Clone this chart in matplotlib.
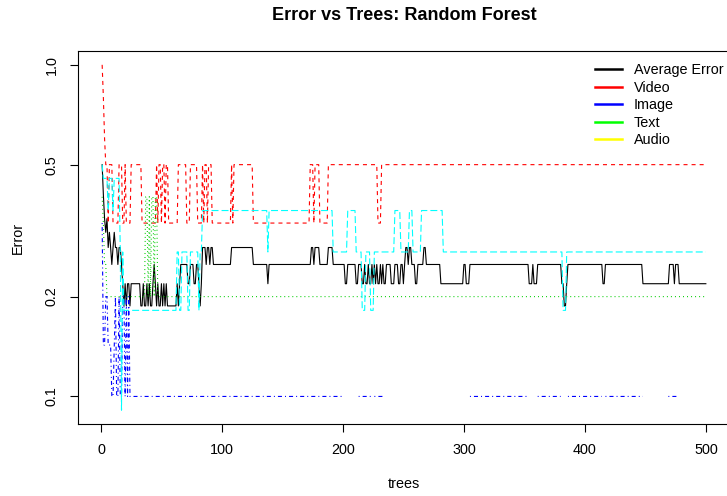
import numpy as np
import matplotlib
matplotlib.use("Agg")
import matplotlib.pyplot as plt
from matplotlib.lines import Line2D

plt.rcParams['font.family'] = ['Liberation Sans', 'DejaVu Sans']
plt.rcParams['lines.scale_dashes'] = False

n_trees = 500

# error series as runs: value holds from each start tree until the next start
avg_start = [1, 2, 3, 4, 5, 6, 7, 8, 9, 10, 11, 12, 14, 15, 17, 18, 19, 20, 21, 22, 24, 25,
             33, 35, 36, 38, 39, 40, 41, 43, 44, 45, 46, 47, 48, 50, 51, 52, 53, 54, 55,
             63, 64, 65, 66, 72, 74, 77, 79, 81, 82, 83, 84, 87, 88, 90, 91, 93, 108, 126,
             138, 139, 174, 176, 177, 181, 188, 192, 202, 204, 211, 213, 216, 218, 219, 221,
             222, 224, 225, 226, 227, 228, 229, 231, 232, 233, 234, 236, 240, 243, 246, 248,
             250, 251, 252, 254, 255, 257, 260, 262, 267, 269, 281, 300, 302, 305, 354, 357,
             358, 361, 381, 383, 385, 386, 415, 417, 448, 470, 474, 475, 478]
avg_val = [0.5, 0.40625, 0.34375, 0.3125, 0.34375, 0.28125, 0.3125, 0.28125, 0.25, 0.28125,
           0.3125, 0.28125, 0.25, 0.28125, 0.25, 0.21875, 0.1875, 0.21875, 0.1875, 0.21875,
           0.1875, 0.21875,
           0.1875, 0.21875, 0.1875, 0.21875, 0.1875, 0.21875, 0.1875, 0.21875, 0.25, 0.21875,
           0.1875, 0.21875, 0.1875, 0.21875, 0.1875, 0.21875, 0.1875, 0.21875, 0.1875,
           0.21875, 0.1875, 0.21875, 0.25, 0.21875, 0.25, 0.21875, 0.25, 0.21875, 0.1875,
           0.21875, 0.28125, 0.25, 0.28125, 0.25, 0.28125, 0.25, 0.28125, 0.25,
           0.21875, 0.25, 0.28125, 0.25, 0.28125, 0.25, 0.28125, 0.25, 0.21875, 0.25, 0.21875,
           0.25, 0.21875, 0.25, 0.21875, 0.25,
           0.21875, 0.25, 0.21875, 0.25, 0.21875, 0.25, 0.21875, 0.25, 0.21875, 0.25, 0.21875,
           0.25, 0.21875, 0.25, 0.21875, 0.25,
           0.21875, 0.25, 0.28125, 0.25, 0.28125, 0.25, 0.21875, 0.25, 0.28125, 0.25, 0.21875,
           0.25, 0.21875, 0.25, 0.21875, 0.25,
           0.21875, 0.25, 0.21875, 0.1875, 0.21875, 0.25, 0.21875, 0.25, 0.21875, 0.25,
           0.21875, 0.25, 0.21875]

video_start = [1, 2, 3, 4, 6, 7, 10, 15, 18, 20, 21, 25, 34, 46, 47, 48, 50, 51, 53, 54, 56,
               64, 71, 74, 80, 84, 85, 86, 88, 89, 92, 108, 109, 110, 126, 173, 176, 177,
               181, 188, 229, 232]
video_val = [1.0, 0.8, 0.6, 0.5, 0.3333, 0.5, 0.3333, 0.5, 0.3333, 0.5, 0.3333, 0.5, 0.3333,
             0.5, 0.3333, 0.5, 0.3333, 0.5, 0.3333, 0.5, 0.3333,
             0.5, 0.3333, 0.5, 0.3333, 0.5, 0.3333, 0.5, 0.3333, 0.5, 0.3333, 0.5, 0.3333,
             0.5, 0.3333, 0.5, 0.3333, 0.5, 0.3333, 0.5, 0.3333, 0.5]

text_start = [1, 2, 3, 5, 37, 39, 40, 41, 42, 44, 45, 47]
text_val = [0.4, 0.3333, 0.25, 0.2, 0.4, 0.2, 0.4, 0.2, 0.4, 0.2, 0.4, 0.2]

image_start = [1, 2, 4, 6, 9, 11, 12, 13, 15, 16, 18, 20, 21, 22, 23, 24, 200, 213, 224, 226,
               236, 254, 255, 299, 300, 305, 354, 361, 381, 386, 415, 417, 449, 469, 478]
image_val = [0.3333, 0.1429, 0.2, 0.1429, 0.1, 0.1429, 0.2, 0.1, 0.2, 0.1, 0.2, 0.1, 0.2, 0.1,
             0.2, 0.1, 0, 0.1, 0, 0.1,
             0, 0.1, 0, 0.1, 0, 0.1, 0, 0.1, 0, 0.1, 0, 0.1, 0, 0.1, 0]

audio_start = [1, 2, 6, 7, 10, 11, 16, 17, 18, 19, 63, 65, 67, 72, 74, 81, 82, 84, 138, 139,
               192, 204, 211, 216, 219, 223, 226, 243, 248, 255, 258, 265, 283, 382, 385]
audio_val = [0.5, 0.4545, 0.3636, 0.4545, 0.3636, 0.4545, 0.2727, 0.0909, 0.2727, 0.1818,
             0.2727, 0.1818, 0.2727, 0.1818, 0.2727, 0.1818, 0.2727, 0.3636, 0.2727, 0.3636,
             0.2727, 0.3636, 0.2727, 0.1818, 0.2727, 0.1818, 0.2727, 0.3636, 0.2727, 0.3636,
             0.2727, 0.3636, 0.2727, 0.1818, 0.2727]

legend_labels = ["Average Error", "Video", "Image", "Text", "Audio"]
legend_colors = ["black", "red", "blue", "#00ff00", "yellow"]


def expand(starts, vals):
    counts = np.diff(np.append(starts, n_trees + 1))
    out = np.repeat(np.array(vals, dtype=float), counts)
    out[out <= 0] = np.nan
    return out


trees = np.arange(1, n_trees + 1)

fig = plt.figure(figsize=(7.27, 4.96), dpi=100)
ax = fig.add_axes([78 / 727, 72 / 496, 652 / 727, 373 / 496])

lw = 0.8
ax.plot(trees, expand(avg_start, avg_val), color="black", lw=lw)
ax.plot(trees, expand(video_start, video_val), color="red", lw=lw, dashes=(2.9, 2.9))
ax.plot(trees, expand(text_start, text_val), color="#00cd00", lw=lw, dashes=(0.7, 2.2))
ax.plot(trees, expand(image_start, image_val), color="blue", lw=lw,
        dashes=(0.7, 2.2, 2.9, 2.2))
ax.plot(trees, expand(audio_start, audio_val), color="cyan", lw=lw, dashes=(5.0, 2.2))

ax.set_yscale("log")
ax.set_xlim(-18.96, 519.96)
ax.set_ylim(10 ** -1.0831, 10 ** 0.0417)
ax.set_yticks([0.1, 0.2, 0.5, 1.0])
ax.set_yticklabels(["0.1", "0.2", "0.5", "1.0"], rotation=90, va="center")
ax.minorticks_off()
ax.set_xticks([0, 100, 200, 300, 400, 500])
ax.tick_params(length=6, width=0.8, labelsize=10.4, pad=8)
for s in ax.spines.values():
    s.set_linewidth(0.8)

ax.set_xlabel("trees", fontsize=10.4, labelpad=14)
ax.set_ylabel("Error", fontsize=10.4, labelpad=14)
fig.text(404 / 727, 1 - 16 / 496, "Error vs Trees: Random Forest", fontsize=13,
         fontweight="bold", ha="center", va="center")

handles = [Line2D([], [], color=c, lw=1.8) for c in legend_colors]
ax.legend(handles, legend_labels, loc="upper left", bbox_to_anchor=(595 / 727, 1 - 63 / 496),
          bbox_transform=fig.transFigure, frameon=False, fontsize=10.4, handlelength=1.9,
          handletextpad=0.8, labelspacing=0.25, borderpad=0, borderaxespad=0)

fig.savefig("out.png", dpi=100)
